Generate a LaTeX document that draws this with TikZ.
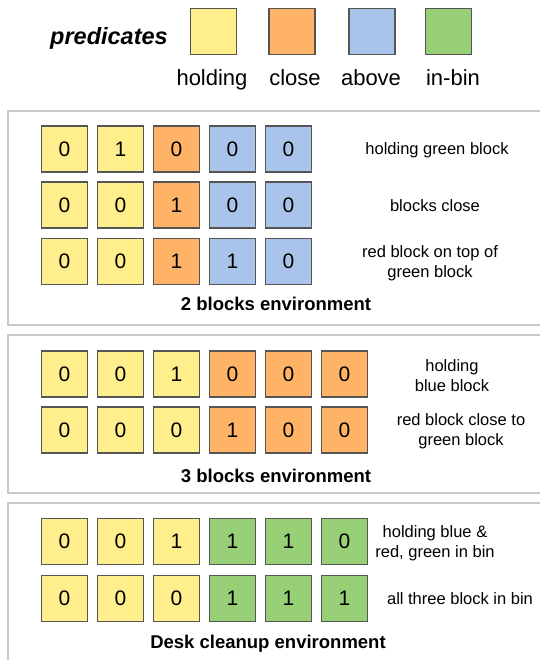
\documentclass[tikz,border=0pt]{standalone}
\usepackage{fontspec}
\setmainfont{Liberation Sans}
\usetikzlibrary{positioning}
\definecolor{hold}{HTML}{FFEE8C}
\definecolor{clos}{HTML}{FFB366}
\definecolor{abov}{HTML}{A9C4EB}
\definecolor{inbin}{HTML}{97D077}
\definecolor{edge}{HTML}{555555}
\definecolor{frame}{HTML}{C8C8C8}

\begin{document}
\begin{tikzpicture}[x=1pt,y=-1pt,
  cell/.style={draw=edge,line width=1.2pt,minimum size=46pt,inner sep=0pt,
               font=\fontsize{21}{25}\selectfont},
  swatch/.style={draw=edge,line width=1.2pt,minimum size=46pt,inner sep=0pt},
  key/.style={font=\fontsize{22}{26}\selectfont,anchor=base},
  desc/.style={font=\fontsize{16.5}{20}\selectfont,align=center},
  envtitle/.style={font=\fontsize{18.5}{22}\selectfont\bfseries},
  panel/.style={draw=frame,line width=2pt}]
\useasboundingbox (0,0) rectangle (540,660);
\clip (0,0) rectangle (540,660);

% legend
\node[font=\fontsize{23.5}{28}\selectfont\bfseries\itshape] (pred) at (109,38) {predicates};
\node[swatch,fill=hold]  (khold)  at (213.5,31.5) {};
\node[swatch,fill=clos]  (kclose) at (292,31.5) {};
\node[swatch,fill=abov]  (kabove) at (372,31.5) {};
\node[swatch,fill=inbin] (kinbin) at (448.5,31.5) {};
\node[key] (lhold)  at (212,86) {holding};
\node[key] (lclose) at (295,86) {close};
\node[key] (labove) at (371,86) {above};
\node[key] (linbin) at (453,86) {in-bin};

% panels
\draw[panel] (8,111) rectangle (600,325);
\draw[panel] (8,335) rectangle (600,493);
\draw[panel] (8,503) rectangle (600,700);

% 2 blocks environment
\foreach \v/\c [count=\k] in {0/hold,1/hold,0/clos,0/abov,0/abov}
  \node[cell,fill=\c] (ar1c\k) at ({8.5+56*\k},149) {\v};
\foreach \v/\c [count=\k] in {0/hold,0/hold,1/clos,0/abov,0/abov}
  \node[cell,fill=\c] (ar2c\k) at ({8.5+56*\k},205) {\v};
\foreach \v/\c [count=\k] in {0/hold,0/hold,1/clos,1/abov,0/abov}
  \node[cell,fill=\c] (ar3c\k) at ({8.5+56*\k},261.5) {\v};
\node[desc] (ad1) at (437,150) {holding green block};
\node[desc] (ad2) at (435,206) {blocks close};
\node[desc] (ad3) at (430,263) {red block on top of\\green block};
\node[envtitle] (at) at (276,304) {2 blocks environment};

% 3 blocks environment
\foreach \v/\c [count=\k] in {0/hold,0/hold,1/hold,0/clos,0/clos,0/clos}
  \node[cell,fill=\c] (br1c\k) at ({8.5+56*\k},374) {\v};
\foreach \v/\c [count=\k] in {0/hold,0/hold,0/hold,1/clos,0/clos,0/clos}
  \node[cell,fill=\c] (br2c\k) at ({8.5+56*\k},430) {\v};
\node[desc] (bd1) at (452,376) {holding\\blue block};
\node[desc] (bd2) at (461,431) {red block close to\\green block};
\node[envtitle] (bt) at (276,476) {3 blocks environment};

% desk cleanup environment
\foreach \v/\c [count=\k] in {0/hold,0/hold,1/hold,1/inbin,1/inbin,0/inbin}
  \node[cell,fill=\c] (cr1c\k) at ({8.5+56*\k},541.5) {\v};
\foreach \v/\c [count=\k] in {0/hold,0/hold,0/hold,1/inbin,1/inbin,1/inbin}
  \node[cell,fill=\c] (cr2c\k) at ({8.5+56*\k},598.5) {\v};
\node[desc] (cd1) at (435,543) {holding blue \&\\red, green in bin};
\node[desc] (cd2) at (460,599) {all three block in bin};
\node[envtitle] (ct) at (268,644) {Desk cleanup environment};
\end{tikzpicture}
\end{document}
